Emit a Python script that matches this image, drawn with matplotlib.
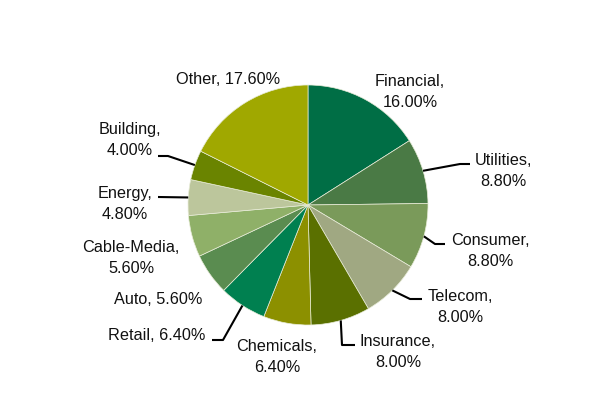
import numpy as np
import matplotlib
matplotlib.use("Agg")
import matplotlib.pyplot as plt

plt.rcParams['font.family'] = ['Liberation Sans', 'DejaVu Sans']

categories = ["Financial", "Utilities", "Consumer", "Telecom", "Insurance", "Chemicals",
              "Retail", "Auto", "Cable-Media", "Energy", "Building", "Other"]
values = [16.0, 8.8, 8.8, 8.0, 8.0, 6.4, 6.4, 5.6, 5.6, 4.8, 4.0, 17.6]
colors = ["#006E45", "#4A7A45", "#7A9A5A", "#A0A882", "#5A7000", "#8C9000",
          "#008050", "#5A8C50", "#8FB068", "#BCC69C", "#6A8400", "#A0A800"]

W, H = 592, 397
fig = plt.figure(figsize=(W / 100, H / 100), dpi=100)
ax = fig.add_axes([0, 0, 1, 1])
ax.set_xlim(0, W)
ax.set_ylim(0, H)
ax.set_aspect('equal')
ax.axis('off')

cx, cy, R = 308, H - 205, 120

wedges, _ = ax.pie(values, colors=colors, startangle=90, counterclock=False,
                   center=(cx, cy), radius=R, frame=True,
                   wedgeprops=dict(edgecolor='#e8ecd8', linewidth=0.5))
ax.set_xlim(0, W)
ax.set_ylim(0, H)
ax.axis('off')

# label layout (pixel coords from top-left): text center, separator, leader path after edge point
layout = {
    "Financial":   ((410, 92), "\n", None),
    "Utilities":   ((503, 171), "\n", [(460, 164), (470, 164)]),
    "Consumer":    ((490, 251), "\n", [(435, 244), (445, 244)]),
    "Telecom":     ((460, 307), "\n", [(410, 299), (422, 299)]),
    "Insurance":   ((398, 352), "\n", [(342, 345), (355, 345)]),
    "Chemicals":   ((277, 357), "\n", None),
    "Retail":      ((157, 336), " ", [(223, 340), (212, 340)]),
    "Auto":        ((158, 300), " ", None),
    "Cable-Media": ((131, 258), "\n", None),
    "Energy":      ((125, 204), "\n", [(158, 197)]),
    "Building":    ((130, 140), "\n", [(168, 156), (158, 156)]),
    "Other":       ((228, 79), " ", None),
}

total = sum(values)
cum = 0.0
for name, v in zip(categories, values):
    mid = (cum + v / 2) / total * 360.0
    cum += v
    (tx, ty), sep, path = layout[name]
    ax.text(tx, H - ty, f"{name},{sep}{v:.2f}%", ha='center', va='center',
            multialignment='center', fontsize=11.7, color='#111111', linespacing=1.55)
    if path:
        ang = np.deg2rad(90 - mid)
        ex, ey = cx + R * np.cos(ang), cy + R * np.sin(ang)
        xs = [ex] + [p[0] for p in path]
        ys = [ey] + [H - p[1] for p in path]
        ax.plot(xs, ys, color='black', linewidth=1.5, solid_capstyle='butt')

fig.savefig("out.png", dpi=100)
